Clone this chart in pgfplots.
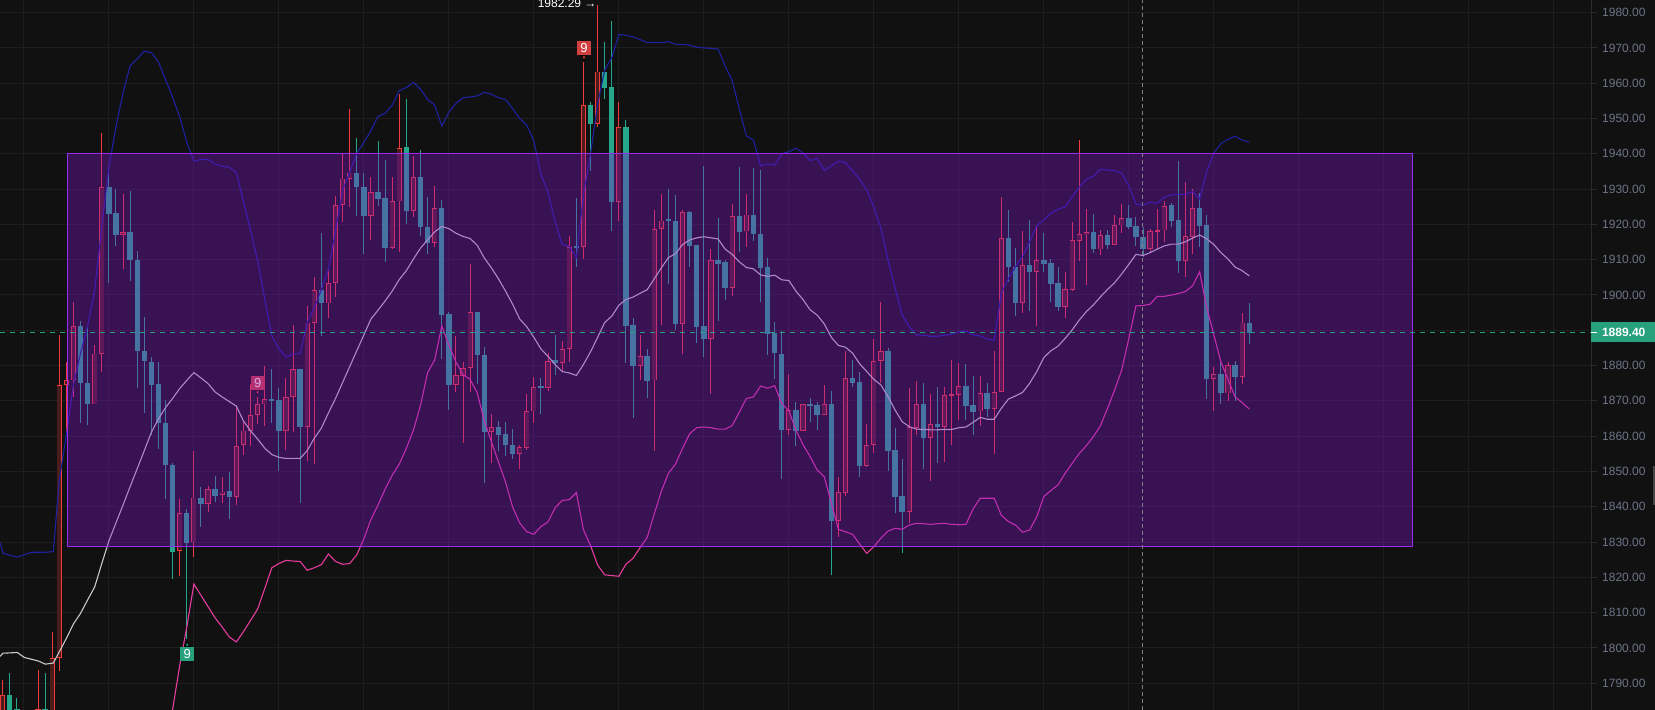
\documentclass[border=0pt]{standalone}
\usepackage{fontspec}
\setmainfont{Liberation Sans}
\usepackage{pgfplots}
\usepackage{pgfplotstable}
\pgfplotsset{compat=1.18}
\definecolor{bg}{HTML}{111111}
\definecolor{gridc}{HTML}{1E1E20}
\definecolor{axisc}{HTML}{2A2C33}
\definecolor{tickc}{HTML}{6E7487}
\definecolor{upc}{HTML}{F23C3C}
\definecolor{upfill}{HTML}{4B1C1C}
\definecolor{dnc}{HTML}{26A68A}
\definecolor{boxf}{HTML}{8114D0}
\definecolor{boxd}{HTML}{9A2BF0}
\definecolor{bbu}{HTML}{1E22A0}
\definecolor{bbm}{HTML}{C8C8C8}
\definecolor{bbl}{HTML}{E63CA0}
\definecolor{lastc}{HTML}{26A17B}
\definecolor{flagr}{HTML}{D23F3F}
\pgfplotstableread{
i top bot low high
-8 1786.7 1775 1770 1790.8
-3 1782.6 1775 1770 1793.7
-1 1797.2 1775 1770 1804.4
0 1874.5 1797.2 1793.5 1888.7
1 1875.8 1874.5 1860.4 1881
2 1891.2 1875.8 1871 1897.9
5 1883.4 1869 1869 1885.7
6 1930.7 1883.4 1878.1 1946
9 1917.8 1916.9 1907.3 1928.7
17 1838.1 1827.5 1820.3 1842.2
19 1842.6 1829.9 1825.7 1855.7
21 1844.9 1840.9 1838.4 1846
23 1844.3 1843.4 1841.2 1848.5
25 1857.2 1842.9 1840.4 1868.7
26 1861.6 1857.5 1854.7 1864.3
27 1866 1861.6 1857.2 1874.8
28 1869 1866 1863.5 1871.1
29 1870.4 1869 1863 1879.9
32 1871.2 1861.5 1856.1 1876.5
33 1878.9 1871.2 1861.3 1891.5
35 1892.2 1862.6 1853 1897
36 1901.4 1892.2 1852.2 1905
38 1903.5 1897.6 1893.4 1907
39 1925.6 1903.5 1899.4 1928
40 1933 1925.6 1920.7 1940
41 1934.7 1933 1924.8 1952.8
44 1929.1 1922.3 1915.5 1933.3
47 1926.5 1913.4 1913 1933.3
48 1941.6 1926.5 1912.1 1956.9
50 1933.3 1923.9 1922.1 1939.5
53 1924.6 1914.7 1913.7 1931
56 1877.2 1874.5 1872.5 1888.4
57 1879.4 1877.1 1858.2 1881
58 1895.1 1879.4 1872.5 1908.9
61 1862.5 1861.1 1852.5 1866.2
65 1856.8 1855 1850.6 1857.6
66 1867 1856.7 1856 1872
67 1873.8 1867 1863.8 1876.7
69 1881.3 1873.6 1872.7 1883.5
71 1884.8 1880.7 1878.4 1886.9
72 1913.5 1884.8 1881 1916.7
74 1953.7 1913.5 1910.3 1966
76 1963.3 1948.4 1947.7 1982.3
79 1947.5 1926.4 1921 1954.6
82 1882.6 1880 1875.8 1888.7
84 1918.8 1875.8 1855.8 1924.1
85 1921.1 1918.8 1891.5 1928.6
88 1923.6 1891.9 1883.3 1924.2
92 1909.8 1887.6 1872 1913
95 1922.3 1902 1899.6 1925.9
97 1922.8 1918 1913.7 1928.7
103 1867.4 1861.7 1860.2 1877.5
105 1869 1861.6 1861.6 1869.2
108 1869 1865.9 1865.9 1874.5
110 1844.1 1836.1 1831.5 1848.4
111 1876.4 1844 1843.1 1884
114 1857.6 1851.6 1851.3 1863.4
115 1881.2 1857.6 1855.1 1887.5
116 1884 1881.2 1875 1898
120 1862.5 1838.6 1835.5 1873.6
121 1869 1862.4 1860.4 1875.6
123 1863.4 1859.6 1847.3 1871.9
125 1871.6 1862.7 1852.8 1873.9
126 1871.9 1871.5 1857.4 1881.6
127 1874.1 1871.8 1864.6 1880.7
130 1872.2 1867 1863 1877
132 1872.6 1867.7 1855 1884
133 1916.1 1872.6 1872.4 1927.8
136 1908.4 1897.8 1895 1918
138 1909.8 1906.6 1891.2 1919.9
142 1901.6 1896.7 1893.5 1906.6
143 1915.5 1901.4 1901.1 1920.6
144 1917.2 1915.4 1909.5 1943.9
145 1917.8 1917.2 1902.8 1924.4
147 1916.9 1912.9 1911.4 1918.4
149 1919.7 1914.3 1914.1 1922.8
150 1921.7 1919.7 1917.5 1925.7
154 1918 1913.1 1912.2 1918.7
155 1918.3 1917.9 1913 1924.5
156 1925.3 1918.3 1915 1926.7
159 1916.6 1909.7 1905.1 1932
160 1924.6 1916.5 1911.7 1930
163 1877.5 1876.1 1867.1 1879.7
165 1880.1 1872.1 1870 1881
167 1892.2 1876.9 1874.8 1894.8
}\upcandles
\pgfplotstableread{
i top bot low high
-7 1786.7 1775 1770 1792.8
-6 1782.6 1775 1770 1785.8
-2 1782.6 1775 1770 1792.8
3 1891.2 1875.2 1863.8 1892.5
4 1875.2 1869 1863.3 1891
7 1930.7 1923 1903.4 1934.8
8 1923.2 1916.9 1913.9 1930
10 1917.8 1909.8 1904.1 1929.5
11 1909.8 1884 1873.6 1912.4
12 1884 1881.2 1866.6 1893.8
13 1881.1 1874.5 1860.2 1882.5
14 1874.7 1863.6 1856.3 1881
15 1863.6 1851.7 1842.2 1870.3
16 1851.7 1827.3 1819.4 1852.5
18 1838.1 1829.8 1802.4 1839.4
20 1842.6 1840.9 1834.4 1845.7
22 1844.9 1843.1 1841.4 1848.8
24 1844.4 1842.9 1836.4 1849.9
30 1870.4 1869.9 1863.6 1879
31 1870.3 1861.5 1850.2 1873.6
34 1878.9 1862.6 1841.1 1879
37 1901.4 1897.6 1888.3 1917.5
42 1934.7 1930.6 1922.4 1944.5
43 1930.7 1922.3 1911.6 1934.6
45 1929.1 1927.3 1925.2 1943.6
46 1927.4 1913.4 1909.3 1938.3
49 1941.9 1923.9 1920.1 1955.4
51 1933.3 1919.4 1916.6 1941
52 1919.4 1914.7 1911.7 1927.8
54 1924.6 1894.4 1882 1926.9
55 1894.6 1874.5 1867.5 1895.1
59 1895.2 1882.9 1874.9 1895.3
60 1882.9 1861.1 1846.8 1885.2
62 1862.5 1860.3 1855.8 1864.4
63 1860.7 1857.6 1854.5 1863.9
64 1857.6 1854.9 1853.6 1862.1
68 1874.2 1873.6 1866.2 1876.5
70 1881.5 1880.8 1877.4 1888.6
73 1913.8 1913.4 1907.8 1927.5
75 1953.7 1948.4 1935.1 1954.6
77 1963.3 1958.7 1955.6 1971.7
78 1958.8 1926.4 1918.2 1977.6
80 1947.5 1891.2 1880.6 1949.6
81 1891.4 1880 1865.2 1893.5
83 1882.6 1875.7 1870.8 1884.8
86 1921.5 1921 1903 1930
87 1921.1 1891.7 1890.2 1928.2
89 1923.6 1913.9 1907.9 1923.9
90 1914.2 1891 1886.3 1914.2
91 1891.2 1887.5 1882.5 1936.5
93 1910 1908.9 1892.6 1921.9
94 1909.3 1902 1898.7 1909.8
96 1922.4 1917.9 1912.1 1936.3
98 1922.8 1917.4 1915.3 1935.9
99 1917.4 1907.7 1898 1935.5
100 1907.8 1889 1883.1 1910.5
101 1889.2 1883.5 1876.2 1892.4
102 1883.4 1861.7 1847.9 1889.7
104 1867.5 1861.6 1857.2 1869.8
106 1869 1868.6 1864 1870.9
107 1868.8 1866 1861.7 1869.8
109 1869.1 1836.1 1820.8 1872.7
112 1876.4 1875.1 1874 1881.6
113 1875.3 1851.6 1848.4 1878.1
117 1884 1855.9 1850.1 1884.9
118 1856.1 1842.9 1838.1 1862.2
119 1843 1838.6 1827 1853.6
122 1869.1 1859.6 1850.7 1875
124 1863.4 1862.7 1852.3 1874
128 1874.2 1868.5 1864.6 1880.4
129 1868.9 1866.9 1860.4 1877.1
131 1872.2 1867.7 1865.3 1875
134 1916.1 1907.8 1903.6 1924.1
135 1907.9 1897.8 1894 1913.3
137 1908.4 1906.5 1895.6 1921.3
139 1909.8 1908.9 1906.6 1917.6
140 1909.1 1903.2 1898 1910.1
141 1903.4 1896.6 1895.5 1908
146 1917.8 1912.9 1911.8 1923
148 1917 1914.3 1913.1 1918.4
151 1921.8 1919.4 1918.7 1925.5
152 1919.5 1916.3 1914 1922
153 1916.4 1913 1910.9 1919.4
157 1925.5 1921 1919.4 1926
158 1921.2 1909.6 1906.3 1938
161 1924.7 1919.6 1913.7 1928.8
162 1919.8 1876.1 1870.4 1922.6
164 1877.6 1872.1 1869.2 1881
166 1880.1 1876.9 1870 1881.3
168 1892.1 1889.3 1886.1 1897.6
}\dncandles
\pgfplotstableread{
i v
-8.37 1829.9
-7.95 1826.8
-5.93 1825.7
-3.95 1827.1
-1.98 1827.1
-0.85 1827.3
0 1847.6
1 1860.4
2 1874.5
3 1883.5
4 1891.2
5 1901.5
6 1919.4
7 1936.1
8 1947.7
9 1957.3
10 1965
11 1966.9
12 1969.1
13 1968.7
14 1966
15 1961.1
16 1956
17 1950.5
18 1943.2
19 1937.9
20 1938.4
21 1938.4
22 1937.1
23 1936.5
24 1936.2
25 1934.7
26 1926.5
27 1918.2
28 1909.8
29 1898.9
30 1888.4
31 1884.8
32 1882.4
33 1883.3
34 1883.3
35 1892.2
36 1896.4
37 1901.5
38 1907.3
39 1918.2
40 1929.7
41 1934.8
42 1940.2
43 1943.2
44 1946.6
45 1950.6
46 1951.5
47 1953.8
48 1957.9
49 1958.8
50 1960.2
51 1958.3
52 1955.4
53 1953.8
54 1947.9
55 1951.8
56 1954.3
57 1955.9
58 1956.1
59 1956.4
60 1957.4
61 1956.9
62 1955.9
63 1955.4
64 1952.8
65 1950
66 1948.1
67 1943.6
68 1934.2
69 1929.1
70 1920.7
71 1914.3
72 1913.7
73 1910.7
74 1928.4
75 1940
76 1954.1
77 1963.7
78 1967.2
79 1973.8
80 1973.6
81 1973.1
82 1972.4
83 1971.5
84 1971.6
85 1971.5
86 1971.8
87 1971
88 1971
89 1970.8
90 1970.2
91 1970
92 1969.9
93 1969.7
94 1964.9
95 1960.8
96 1952.8
97 1945.1
98 1943.9
99 1936.6
100 1937.1
101 1936.8
102 1940
103 1940.6
104 1941.6
105 1940.2
106 1938.1
107 1938.7
108 1935.3
109 1936.6
110 1937.9
111 1937.5
112 1935.2
113 1932.8
114 1929.8
115 1924.9
116 1918.9
117 1909.9
118 1901.9
119 1894.3
120 1891
121 1888.7
122 1888.6
123 1888.3
124 1888.3
125 1888.6
126 1888.9
127 1889.6
128 1889.8
129 1888.7
130 1888.4
131 1887.5
132 1887.2
133 1900.5
134 1904.7
135 1908
136 1910.9
137 1915.1
138 1919.6
139 1921.3
140 1923.2
141 1924.3
142 1925
143 1927.9
144 1930.5
145 1932.8
146 1933.7
147 1935.6
148 1935.4
149 1935.2
150 1934.5
151 1930.9
152 1925.8
153 1925.4
154 1926.3
155 1926
156 1927.7
157 1928.4
158 1928.5
159 1928.5
160 1929.3
161 1927.2
162 1935.1
163 1940.2
164 1942.9
165 1944.1
166 1945
167 1943.9
168 1943.3
}\bbupper
\pgfplotstableread{
i v
-8.37 1797.6
-7.95 1798.5
-5.93 1798.7
-4.94 1797.3
-2.96 1796.3
-1.98 1795.4
-0.85 1795.7
0 1798.9
1 1802.7
2 1806.8
3 1809.8
4 1813.6
5 1817.3
6 1823.9
7 1830.3
8 1835.4
9 1840.5
10 1845.7
11 1850.8
12 1855.9
13 1861.1
14 1864.9
15 1868.1
16 1870.7
17 1873.5
18 1875.8
19 1878
20 1876.5
21 1874.9
22 1872.5
23 1871.1
24 1869.8
25 1868.5
26 1864.3
27 1861.5
28 1859.2
29 1856.6
30 1854.8
31 1854
32 1853.7
33 1853.7
34 1853.7
35 1855.9
36 1859.4
37 1862.3
38 1866.6
39 1870.7
40 1875.2
41 1879.7
42 1884.2
43 1888.7
44 1893.2
45 1895.7
46 1898.3
47 1901.1
48 1904.4
49 1906.9
50 1910.2
51 1913.3
52 1915.6
53 1917.9
54 1919.4
55 1918.8
56 1917.5
57 1916.6
58 1916
59 1914.1
60 1910.5
61 1907.7
62 1904.6
63 1901.1
64 1897.4
65 1893.2
66 1891
67 1888
68 1884.7
69 1882.6
70 1880.3
71 1878.3
72 1877.9
73 1877.2
74 1880.3
75 1883.9
76 1888
77 1892.2
78 1894
79 1897.1
80 1898.7
81 1899.4
82 1900.5
83 1901.5
84 1904.6
85 1907.7
86 1910.6
87 1911.7
88 1914.3
89 1915.6
90 1916.2
91 1916.5
92 1916.2
93 1915.9
94 1913
95 1911.5
96 1909.4
97 1907.8
98 1907.4
99 1905.7
100 1905.3
101 1905.6
102 1904.3
103 1904.1
104 1901.1
105 1898.7
106 1895.8
107 1894.3
108 1891.8
109 1888
110 1885.7
111 1885.2
112 1883.5
113 1880.5
114 1878.3
115 1876.1
116 1874.5
117 1871.2
118 1867.4
119 1864.1
120 1862.7
121 1862
122 1861.9
123 1861.8
124 1861.8
125 1861.9
126 1861.9
127 1862.4
128 1862.6
129 1863.9
130 1865.3
131 1864.8
132 1864.8
133 1867.9
134 1870.5
135 1871.4
136 1872.4
137 1875
138 1878.3
139 1882.3
140 1884.2
141 1885.5
142 1887.7
143 1890.1
144 1892.9
145 1895.3
146 1897.2
147 1899.5
148 1901.6
149 1903.5
150 1906
151 1908.7
152 1911.5
153 1911.2
154 1912
155 1913
156 1913.9
157 1914.4
158 1914.4
159 1915.1
160 1916.1
161 1917
162 1915.9
163 1914.3
164 1912
165 1910.2
166 1907.9
167 1906.9
168 1905.4
}\bbmid
\pgfplotstableread{
i v
15.5 1775
16 1782.6
17 1795
18 1805.9
19 1818.1
20 1814.9
21 1811.7
22 1808.5
23 1805.9
24 1803.1
25 1801.7
26 1804.6
27 1807.8
28 1811
29 1816.8
30 1822.7
31 1823.9
32 1824.8
33 1824.6
34 1824.5
35 1822
36 1822.7
37 1823.6
38 1826.6
39 1824.5
40 1823.7
41 1823.9
42 1826.4
43 1830.9
44 1836.4
45 1840.5
46 1845
47 1848.9
48 1852.1
49 1856.6
50 1861.7
51 1868.8
52 1878
53 1881.6
54 1891.2
55 1885.8
56 1881
57 1877.4
58 1876.1
59 1872.3
60 1864.3
61 1858.5
62 1852.7
63 1847
64 1839.9
65 1835.4
66 1832.9
67 1832.2
68 1834.4
69 1835.7
70 1839.7
71 1841.8
72 1842
73 1844
74 1833.5
75 1829
76 1823.5
77 1820.7
78 1820.5
79 1820.3
80 1823.7
81 1825.4
82 1828.4
83 1831.3
84 1838
85 1844.4
86 1849.5
87 1852.1
88 1856.6
89 1860.7
90 1862.4
91 1862.6
92 1862.4
93 1862
94 1862
95 1863
96 1866.8
97 1870.7
98 1871.1
99 1874.2
100 1873.6
101 1874.3
102 1869.2
103 1867.2
104 1861.7
105 1857.6
106 1854.2
107 1850.4
108 1848.5
109 1841
110 1833.6
111 1832.9
112 1832.2
113 1829.4
114 1826.8
115 1828.7
116 1831.1
117 1833.1
118 1833.9
119 1833.6
120 1834.8
121 1835.3
122 1835.2
123 1835
124 1835.2
125 1835.3
126 1835
127 1834.9
128 1835
129 1839.3
130 1842.4
131 1842.4
132 1842.4
133 1837.6
134 1835.8
135 1834.8
136 1832.8
137 1833.4
138 1837.2
139 1842.9
140 1844.6
141 1846.2
142 1849.5
143 1852.3
144 1855.1
145 1857.3
146 1859.9
147 1863
148 1867.9
149 1873.1
150 1878.8
151 1887.7
152 1896.9
153 1897
154 1897.4
155 1899.6
156 1899.6
157 1900
158 1900.4
159 1901
160 1902.6
161 1906.6
162 1896.4
163 1888.7
164 1881
165 1876.1
166 1871.1
167 1869.5
168 1867.7
}\bblower
\begin{document}
\begin{tikzpicture}[x=1pt,y=1pt]
\clip (0,0) rectangle (827.5,355);
\useasboundingbox (0,0) rectangle (827.5,355);
\fill[bg] (0,0) rectangle (827.5,355);
\begin{axis}[
  at={(0,0)}, anchor=south west,
  scale only axis, width=795.5pt, height=355pt,
  xmin=-8.372, xmax=216.25, ymin=1782.41, ymax=1983.59,
  clip=true, clip mode=individual,
  axis line style={draw=none},
  xtick={-5.08,6.92,18.92,30.92,42.92,54.92,66.92,78.92,90.92,102.92,114.92,126.92,138.92,150.92,162.92,174.92,186.92,198.92,210.92},
  xticklabels={}, x tick style={draw=none},
  ytick={1790,1800,1810,1820,1830,1840,1850,1860,1870,1880,1890,1900,1910,1920,1930,1940,1950,1960,1970,1980},
  yticklabel pos=right, ytick pos=right, tick align=outside,
  y tick style={draw=axisc,line width=0.5pt}, major tick length=3pt,
  y tick label style={/pgf/number format/.cd,fixed,fixed zerofill,precision=2,1000 sep={},assume math mode=true,/tikz/.cd,
     font=\fontsize{6}{7}\selectfont, text=tickc, anchor=west, inner sep=0pt, xshift=2.4pt},
  grid=major, major grid style={draw=gridc,line width=0.5pt},
]
% candles: wicks, then bodies
\addplot[draw=none,mark=none,forget plot,error bars/.cd,y dir=plus,y explicit,error mark=none,error bar style={draw=upc,line width=0.5pt}]
  table[x=i,y=low,y error plus expr=\thisrow{high}-\thisrow{low}]{\upcandles};
\addplot[draw=none,mark=none,forget plot,error bars/.cd,y dir=plus,y explicit,error mark=none,error bar style={draw=dnc,line width=0.5pt}]
  table[x=i,y=low,y error plus expr=\thisrow{high}-\thisrow{low}]{\dncandles};
\addplot[draw=none,mark=none,forget plot,error bars/.cd,y dir=plus,y explicit,error mark=none,error bar style={draw=upc,line width=2.6pt}]
  table[x=i,y=bot,y error plus expr={max(\thisrow{top}-\thisrow{bot},0.56)}]{\upcandles};
\addplot[draw=none,mark=none,forget plot,error bars/.cd,y dir=plus,y explicit,error mark=none,error bar style={draw=upfill,line width=1.8pt}]
  table[x=i,y expr=\thisrow{bot}+0.25,y error plus expr={max(\thisrow{top}-\thisrow{bot}-0.5,0)}]{\upcandles};
\addplot[draw=none,mark=none,forget plot,error bars/.cd,y dir=plus,y explicit,error mark=none,error bar style={draw=dnc,line width=2.7pt}]
  table[x=i,y=bot,y error plus expr={max(\thisrow{top}-\thisrow{bot},0.56)}]{\dncandles};
% Bollinger bands
\addplot[bbu,line width=0.55pt,mark=none] table[x=i,y=v]{\bbupper};
\addplot[bbm,line width=0.55pt,mark=none] table[x=i,y=v]{\bbmid};
\addplot[bbl,line width=0.55pt,mark=none] table[x=i,y=v]{\bblower};
% sequence flags
\addplot[only marks,mark=triangle*,mark size=1.4pt,mark options={draw=none,fill=lastc}] coordinates {(18.07,1800.9)};
\addplot[draw=none,mark=none] coordinates {(18.07,1798.2)} node[fill=lastc,text=white,inner sep=0pt,minimum width=7pt,minimum height=6.8pt,font=\fontsize{6.5}{7}\selectfont,anchor=center] {9};
\addplot[only marks,mark=triangle*,mark size=1.4pt,mark options={draw=none,fill=flagr,rotate=180}] coordinates {(28,1872.4)};
\addplot[draw=none,mark=none] coordinates {(28,1875)} node[fill=flagr,text=white,inner sep=0pt,minimum width=7pt,minimum height=6.8pt,font=\fontsize{6.5}{7}\selectfont,anchor=center] {9};
\addplot[only marks,mark=triangle*,mark size=1.4pt,mark options={draw=none,fill=flagr,rotate=180}] coordinates {(74.08,1967.3)};
\addplot[draw=none,mark=none] coordinates {(74.08,1969.9)} node[fill=flagr,text=white,inner sep=0pt,minimum width=7pt,minimum height=6.8pt,font=\fontsize{6.5}{7}\selectfont,anchor=center] {9};
% rectangle over everything
\addplot[draw=boxd,line width=0.7pt,fill=boxf,fill opacity=0.35,draw opacity=1,mark=none] coordinates {(1.13,1828.8)(191.07,1828.8)(191.07,1940.1)(1.13,1940.1)} --cycle;
% crosshair and last price
\addplot[draw=white!50!black,line width=0.5pt,dash pattern=on 2pt off 1.5pt,mark=none] coordinates {(152.9,1782.41)(152.9,1983.59)};
\addplot[draw=lastc,line width=0.5pt,dash pattern=on 2.5pt off 2.5pt,mark=none] coordinates {(-8.372,1889.4)(216.25,1889.4)};
% high marker
\addplot[draw=none,mark=none] coordinates {(75.9,1982.6)} node[anchor=east,text=white,inner sep=0pt,font=\fontsize{6}{7}\selectfont] {1982.29 →};
\end{axis}
% right price panel
\draw[axisc,line width=0.5pt] (795.5,0) -- (795.5,355);
\fill[lastc] (795.5,184) rectangle (827.5,194);
\draw[white,line width=0.5pt] (795.5,188.8) -- (798.5,188.8);
\node[anchor=west,text=white,inner sep=0pt,font=\fontsize{6}{7}\selectfont\bfseries] at (800.8,188.8) {1889.40};
\fill[white!27!black] (826.5,102.5) rectangle (827.5,122);
\end{tikzpicture}
\end{document}
